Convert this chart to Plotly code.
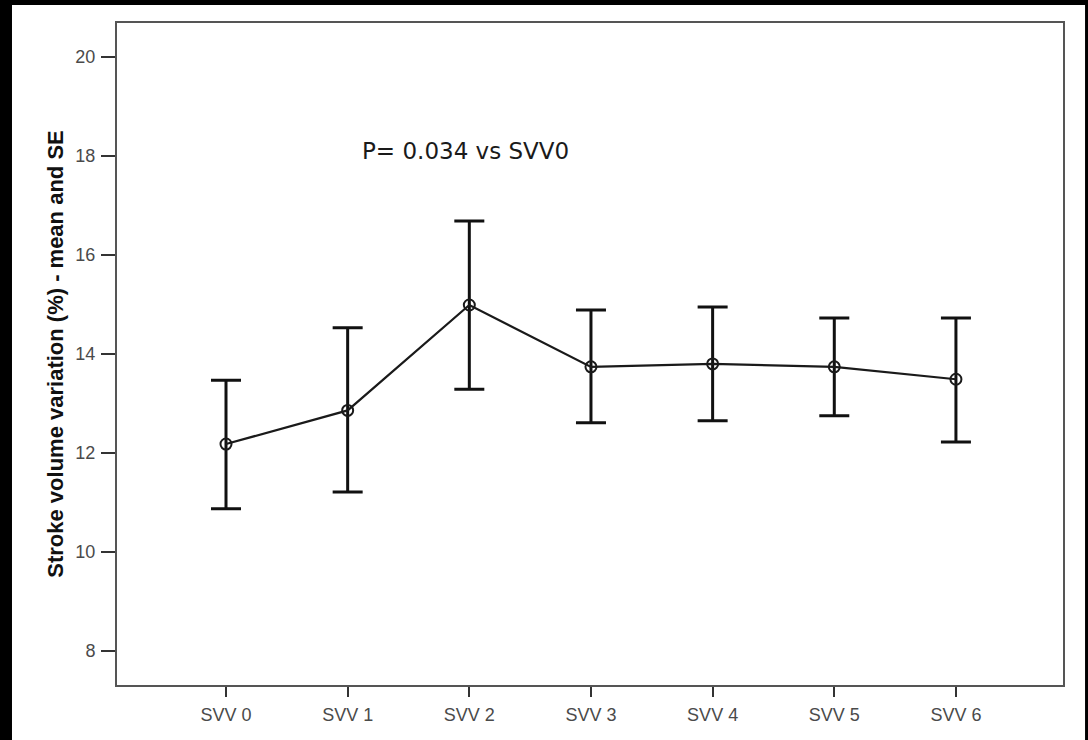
import plotly.graph_objects as go

categories = ["SVV 0", "SVV 1", "SVV 2", "SVV 3", "SVV 4", "SVV 5", "SVV 6"]
means = [12.18, 12.86, 14.99, 13.74, 13.80, 13.74, 13.49]
upper = [13.47, 14.53, 16.69, 14.89, 14.95, 14.73, 14.73]
lower = [10.87, 11.21, 13.29, 12.61, 12.65, 12.75, 12.22]
y_ticks = [8, 10, 12, 14, 16, 18, 20]

x_pos = list(range(len(categories)))
err_plus = [u - m for u, m in zip(upper, means)]
err_minus = [m - l for m, l in zip(means, lower)]

fig = go.Figure()
fig.add_trace(go.Scatter(
    x=x_pos, y=means, mode="lines+markers",
    line=dict(color="#1a1a1a", width=2.2),
    marker=dict(symbol="circle-open", size=11, color="#1a1a1a", line=dict(width=2)),
    error_y=dict(type="data", symmetric=False, array=err_plus, arrayminus=err_minus,
                 color="#111111", thickness=3, width=15),
    showlegend=False,
))

fig.add_annotation(x=1.10, y=18.1, xref="x", yref="y", text="P= 0.034 vs SVV0",
                   showarrow=False, xanchor="left", yanchor="middle",
                   font=dict(family="DejaVu Sans", size=23, color="#1a1a1a"))

# black frame around a white page
fig.add_shape(type="rect", xref="paper", yref="paper", x0=-0.111, x1=1.0233, y0=-0.2, y1=1.0272,
              fillcolor="white", line=dict(width=0), layer="below")

fig.update_layout(
    width=1088, height=740,
    margin=dict(l=117, r=25, t=23, b=55),
    paper_bgcolor="black", plot_bgcolor="white",
    font=dict(family="Liberation Sans, Arial", size=13, color="#444444"),
)
fig.update_xaxes(range=[-0.896, 6.88], tickvals=x_pos, ticktext=categories,
                 showgrid=False, zeroline=False, showline=True, mirror=True,
                 linecolor="#555555", linewidth=2, ticks="outside", ticklen=10,
                 tickwidth=2, tickcolor="#333333", ticklabelstandoff=2,
                 tickfont=dict(family="Liberation Sans, Arial", size=18, color="#4a4a4a"))
fig.update_yaxes(range=[7.31, 20.69], tickvals=y_ticks, showgrid=False, zeroline=False,
                 showline=True, mirror=True, linecolor="#555555", linewidth=2,
                 ticks="outside", ticklen=14, tickwidth=2, tickcolor="#333333",
                 ticklabelstandoff=2,
                 tickfont=dict(family="Liberation Sans, Arial", size=18, color="#4a4a4a"),
                 title=dict(text="<b>Stroke volume variation (%) - mean and SE</b>",
                            font=dict(family="Liberation Sans, Arial", size=22, color="#111111"),
                            standoff=6))

fig.write_html("out.html")
